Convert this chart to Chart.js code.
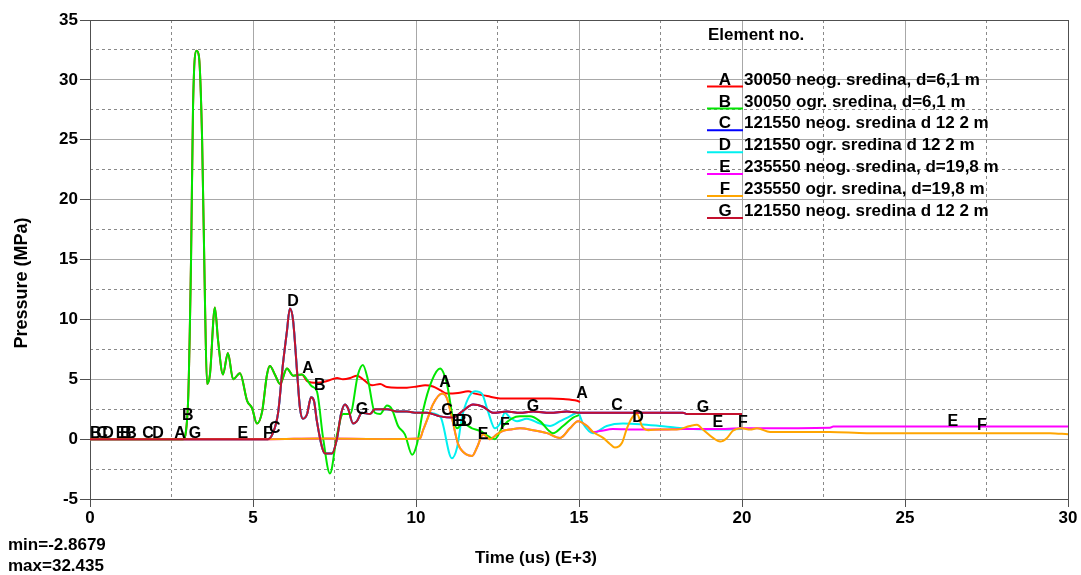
<!DOCTYPE html>
<html>
<head>
<meta charset="utf-8">
<script src="https://cdn.jsdelivr.net/npm/chart.js@4.4.1/dist/chart.umd.min.js"></script>
<style>
  html, body { margin: 0; padding: 0; background: #fff; }
  canvas { display: block; }
</style>
</head>
<body>
<canvas id="chart" width="1081" height="575"></canvas>
<script>
// Pressure histories (time in E+3 us, pressure in MPa)
const bTime = [0, 2.85, 3.0, 3.1, 3.16, 3.27, 3.34, 3.44, 3.53, 3.59, 3.68, 3.83, 3.93, 4.08, 4.23, 4.39, 4.6, 4.82, 4.97, 5.12,
  5.28, 5.43, 5.52, 5.67, 5.83, 6.04, 6.23, 6.5, 6.81, 6.96, 7.15, 7.36, 7.58, 7.76, 7.98, 8.22, 8.37, 8.53, 8.74, 8.9,
  9.11, 9.26, 9.45, 9.66, 9.88, 10.03, 10.21, 10.49, 10.74, 10.95, 11.13, 11.26, 11.44, 11.72, 11.96, 12.21, 12.42, 12.67, 13.19, 13.5,
  13.8, 14.2, 14.51, 14.82, 15.0];
const bPress = [0, 0, 2.6, 15.1, 27.7, 32.44, 32.0, 24.9, 11.0, 4.6, 5.4, 11.0, 8.2, 5.4, 7.2, 5.0, 5.5, 3.2, 2.6, 1.3,
  2.3, 5.4, 6.1, 5.4, 4.6, 5.9, 5.3, 5.4, 4.4, 4.0, 0.1, -2.87, 0.4, 2.1, 2.1, 5.4, 6.2, 4.9, 2.2, 2.1,
  2.8, 2.5, 1.1, 0.4, -1.3, -0.4, 2.3, 4.9, 5.9, 4.6, 1.8, 0.9, 1.3, 0.9, 0.7, 0.25, 0.0, 1.1, 1.9, 1.9,
  1.5, 0.5, 1.1, 1.8, 2.0];

// A runs under B until the two media separate
const aTime = [0, 2.85, 3.0, 3.1, 3.16, 3.27, 3.34, 3.44, 3.53, 3.59, 3.68, 3.83, 3.93, 4.08, 4.23, 4.39, 4.6, 4.82, 4.97, 5.12,
  5.28, 5.43, 5.52, 5.67, 5.83, 6.04, 6.23, 6.5, 6.66, 6.96, 7.27, 7.58, 7.76, 7.98, 8.19, 8.37, 8.65, 8.9, 9.11, 9.42,
  9.72, 10.03, 10.28, 10.52, 10.74, 10.95, 11.29, 11.6, 11.81, 12.18, 12.58, 13.1, 13.59, 14.11, 14.51, 14.94, 15.03];
const aPress = [0, 0, 2.6, 15.1, 27.7, 32.44, 32.0, 24.9, 11.0, 4.6, 5.4, 11.0, 8.2, 5.4, 7.2, 5.0, 5.5, 3.2, 2.6, 1.3,
  2.3, 5.4, 6.1, 5.4, 4.6, 5.9, 5.3, 5.4, 4.85, 4.7, 4.85, 5.1, 5.0, 5.1, 5.3, 5.0, 4.5, 4.6, 4.35, 4.3,
  4.3, 4.4, 4.5, 4.4, 4.1, 3.8, 3.85, 4.0, 3.8, 3.6, 3.4, 3.4, 3.4, 3.4, 3.35, 3.2, 3.1];

const gTime = [0, 5.46, 5.61, 5.77, 5.92, 6.04, 6.13, 6.23, 6.35, 6.44, 6.53, 6.66, 6.78, 6.87, 6.96, 7.12, 7.21, 7.42, 7.58, 7.7,
  7.82, 7.91, 8.07, 8.19, 8.34, 8.59, 8.74, 8.9, 9.11, 9.42, 9.72, 10.03, 10.34, 10.74, 11.13, 11.41, 11.75, 12.06, 12.36, 12.79,
  13.19, 13.59, 14.11, 14.63, 15.03, 15.95, 17.48, 18.19, 18.31, 20.0];
const gPress = [0, 0, 0.5, 2.2, 6.3, 9.0, 10.9, 9.9, 5.7, 2.6, 1.7, 2.1, 3.5, 3.2, 1.5, -0.7, -1.2, -1.2, 0.1, 2.1,
  2.9, 2.6, 1.3, 1.5, 2.2, 2.1, 2.5, 2.5, 2.5, 2.3, 2.3, 2.2, 2.2, 1.9, 1.8, 2.3, 2.9, 2.7, 2.2, 2.3,
  2.2, 2.3, 2.2, 2.3, 2.2, 2.2, 2.2, 2.2, 2.1, 2.1];

// C is the same element as G (drawn underneath)
const cTime = gTime;
const cPress = gPress;

// D follows G up to ~10.7, then separates
const dTime = gTime.slice(0, 34).concat([11.1, 11.26, 11.41, 11.6, 11.81, 12.02, 12.21, 12.42, 12.58, 12.73, 12.88, 13.1, 13.4, 13.8,
  14.11, 14.42, 14.72, 14.97, 15.12, 15.43, 15.85, 16.35, 16.87, 17.48, 18.0, 18.5, 19.23, 20.0]);
const dPress = gPress.slice(0, 34).concat([-1.6, -0.7, 1.8, 3.4, 4.0, 3.8, 2.3, 0.9, 1.3, 2.2, 1.8, 1.5, 1.7, 1.3,
  1.1, 1.5, 1.9, 2.2, 1.3, 0.5, 1.1, 1.3, 1.25, 1.1, 0.95, 0.85, 0.8, 0.85]);

const fTime = [0, 5.5, 7.0, 9.0, 10.12, 10.21, 10.34, 10.52, 10.8, 10.95, 11.1, 11.29, 11.56, 11.72, 11.87, 12.06, 12.27, 12.48, 12.67, 12.88,
  13.19, 13.59, 14.02, 14.42, 14.72, 14.97, 15.25, 15.43, 15.74, 15.95, 16.1, 16.32, 16.47, 16.63, 16.78, 16.93, 17.12, 17.48, 18.0, 18.4,
  18.62, 18.8, 19.11, 19.33, 19.54, 19.72, 20.0, 20.25, 20.46, 20.86, 22.7, 23.83, 25.86, 27.91, 29.45, 30];
const fPress = [0, 0, 0.05, 0, 0.05, 0.7, 1.6, 2.9, 3.8, 3.4, 1.8, -0.4, -1.3, -1.4, -0.7, 0.4, 0, 0.4, 0.7, 0.8,
  0.9, 0.75, 0.5, 0.1, 0.9, 1.5, 1.1, 0.6, 0.1, -0.4, -0.7, -0.3, 0.9, 1.8, 2.1, 1.1, 0.75, 0.8, 0.8, 1.1,
  1.2, 0.8, 0.1, -0.2, 0.1, 0.7, 0.9, 0.8, 0.9, 0.6, 0.6, 0.5, 0.5, 0.5, 0.5, 0.4];

// E follows F up to ~15.4
const eTime = fTime.slice(0, 28).concat([15.64, 16.04, 16.78, 17.48, 18.2, 19.2, 20.0, 22.7, 22.8, 30]);
const ePress = fPress.slice(0, 28).concat([0.67, 0.85, 0.8, 0.8, 0.85, 0.85, 0.9, 0.95, 1.05, 1.05]);

const seriesLetters = ["A", "B", "C", "D", "E", "F", "G"];
const seriesNames = [
  "30050 neog. sredina, d=6,1 m",
  "30050 ogr. sredina, d=6,1 m",
  "121550 neog. sredina d 12 2 m",
  "121550 ogr. sredina d 12 2 m",
  "235550 neog. sredina, d=19,8 m",
  "235550 ogr. sredina, d=19,8 m",
  "121550 neog. sredina d 12 2 m"
];
const seriesColors = ["#ff0000", "#00e600", "#0000ff", "#00f0f0", "#ff00ff", "#ffa500", "#c4102e"];
const seriesOrder = [6, 3, 7, 5, 4, 2, 1];
const seriesTimes = [aTime, bTime, cTime, dTime, eTime, fTime, gTime];
const seriesPress = [aPress, bPress, cPress, dPress, ePress, fPress, gPress];

// curve marker letters (time, pressure)
const markLetters = ["B", "C", "D", "E", "B", "B", "C", "D", "A", "G", "E", "F", "C",
  "B", "D", "A", "B", "G", "A", "C", "E", "B", "D", "E", "F", "G", "A", "C", "D", "G", "E", "F", "E", "F"];
const markTime = [0.18, 0.37, 0.55, 0.95, 1.1, 1.26, 1.78, 2.09, 2.76, 3.22, 4.69, 5.46, 5.67,
  3.0, 6.23, 6.69, 7.05, 8.34, 10.89, 10.95, 11.26, 11.38, 11.56, 12.06, 12.73, 13.59, 15.09, 16.17, 16.81, 18.8, 19.26, 20.03, 26.47, 27.36];
const markPress = [0.5, 0.5, 0.5, 0.5, 0.5, 0.5, 0.5, 0.5, 0.5, 0.5, 0.5, 0.5, 0.9,
  2.0, 11.5, 5.9, 4.5, 2.5, 4.7, 2.4, 1.5, 1.5, 1.5, 0.4, 1.2, 2.7, 3.8, 2.8, 1.8, 2.6, 1.35, 1.35, 1.5, 1.1];

const FONT = "'Liberation Sans', Arial, sans-serif";

const datasets = seriesLetters.map((l, i) => ({
  label: l,
  data: seriesTimes[i].map((t, j) => ({ x: t, y: seriesPress[i][j] })),
  borderColor: seriesColors[i],
  backgroundColor: seriesColors[i],
  borderWidth: 2,
  pointRadius: 0,
  showLine: true,
  fill: false,
  cubicInterpolationMode: "monotone",
  order: seriesOrder[i]
}));

const textPlugin = {
  id: "texts",
  afterDatasetsDraw(chart) {
    const ctx = chart.ctx;
    const xs = chart.scales.x, ys = chart.scales.y;
    ctx.save();
    ctx.fillStyle = "#000";
    ctx.font = "bold 16px " + FONT;
    ctx.textAlign = "center";
    ctx.textBaseline = "middle";
    markLetters.forEach((m, i) => {
      ctx.fillText(m, xs.getPixelForValue(markTime[i]), ys.getPixelForValue(markPress[i]));
    });
    ctx.restore();
  },
  afterDraw(chart) {
    const ctx = chart.ctx;
    ctx.save();
    ctx.fillStyle = "#000";
    ctx.textBaseline = "middle";

    // legend
    ctx.font = "bold 17px " + FONT;
    ctx.textAlign = "left";
    ctx.fillText("Element no.", 708, 35);
    seriesLetters.forEach((l, i) => {
      const y = 80 + i * 21.9;
      ctx.strokeStyle = seriesColors[i];
      ctx.lineWidth = 2;
      ctx.beginPath();
      ctx.moveTo(707, y + 6.5);
      ctx.lineTo(743, y + 6.5);
      ctx.stroke();
      ctx.textAlign = "center";
      ctx.font = "bold 17px " + FONT;
      ctx.fillText(l, 725, y);
      ctx.textAlign = "left";
      ctx.fillText(seriesNames[i], 744, y);
    });

    // axis titles
    ctx.font = "bold 17px " + FONT;
    ctx.textAlign = "center";
    ctx.fillText("Time (us) (E+3)", 536, 558);
    ctx.save();
    ctx.translate(22, 283);
    ctx.rotate(-Math.PI / 2);
    ctx.font = "bold 18px " + FONT;
    ctx.fillText("Pressure (MPa)", 0, 0);
    ctx.restore();

    // min / max notes
    ctx.font = "bold 17px " + FONT;
    ctx.textAlign = "left";
    ctx.fillText("min=-2.8679", 8, 545);
    ctx.fillText("max=32.435", 8, 566);
    ctx.restore();
  }
};

const majorGrid = (edge) => (c) => (c.tick && c.tick.value === edge) ? "#505050" : "#a8a8a8";
const minorGrid = (c) => (c.tick && Math.abs(c.tick.value % 5) > 0.01) ? "#8a8a8a" : "rgba(0,0,0,0)";

new Chart(document.getElementById("chart"), {
  type: "scatter",
  data: { datasets },
  options: {
    responsive: false,
    animation: false,
    layout: { padding: { left: 0, right: 13, top: 20, bottom: 0 } },
    plugins: { legend: { display: false }, tooltip: { enabled: false } },
    scales: {
      x: {
        type: "linear", min: 0, max: 30, position: "bottom",
        ticks: { stepSize: 5, color: "#000", padding: 1, font: { family: FONT, size: 17, weight: "bold" } },
        grid: { color: majorGrid(30), tickLength: 8, tickColor: "#505050" },
        border: { color: "#505050" },
        afterFit(s) { s.height = 76; }
      },
      x2: {
        type: "linear", min: 0, max: 30, position: "bottom",
        ticks: { display: false, stepSize: 2.5 },
        grid: { color: minorGrid, drawTicks: false },
        border: { display: false, dash: [3, 3] },
        afterFit(s) { s.height = 0; }
      },
      y: {
        type: "linear", min: -5, max: 35, position: "left",
        ticks: { stepSize: 5, color: "#000", padding: 2, font: { family: FONT, size: 17, weight: "bold" } },
        grid: { color: majorGrid(35), tickLength: 10, tickColor: "#505050" },
        border: { color: "#505050" },
        afterFit(s) { s.width = 90; }
      },
      y2: {
        type: "linear", min: -5, max: 35, position: "left",
        ticks: { display: false, stepSize: 2.5 },
        grid: { color: minorGrid, drawTicks: false },
        border: { display: false, dash: [3, 3] },
        afterFit(s) { s.width = 0; }
      }
    }
  },
  plugins: [textPlugin]
});
</script>
</body>
</html>
